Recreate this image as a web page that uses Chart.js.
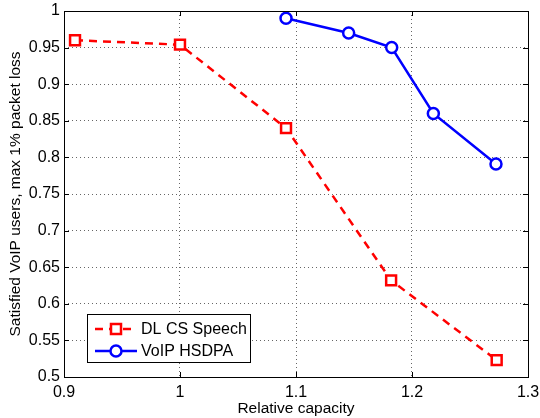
<!DOCTYPE html>
<html>
<head>
<meta charset="utf-8">
<script src="https://cdn.jsdelivr.net/npm/chart.js@4/dist/chart.umd.min.js"></script>
<style>
  html, body { margin: 0; padding: 0; background: #fff; }
  #wrap { width: 540px; height: 418px; }
</style>
</head>
<body>
<div id="wrap"><canvas id="voipChart" width="540" height="418"></canvas></div>
<script>
// values
const csX = [0.9095, 1.0, 1.0914, 1.182, 1.273];
const csY = [0.960, 0.954, 0.840, 0.632, 0.523];
const hsX = [1.0914, 1.1454, 1.1825, 1.2184, 1.2724];
const hsY = [0.990, 0.970, 0.950, 0.860, 0.791];
const seriesNames = ['DL CS Speech', 'VoIP HSDPA'];
const xTicks = [0.9, 1, 1.1, 1.2, 1.3];
const yTicks = [0.5, 0.55, 0.6, 0.65, 0.7, 0.75, 0.8, 0.85, 0.9, 0.95, 1];

const FONT = 'Liberation Sans, Arial, Helvetica, sans-serif';

function toPoints(xs, ys) {
  return xs.map((x, i) => ({ x: x, y: ys[i] }));
}

// box round the plot, like matlab
const boxPlugin = {
  id: 'box',
  afterDatasetsDraw(chart) {
    const a = chart.chartArea;
    const ctx = chart.ctx;
    ctx.save();
    ctx.strokeStyle = '#000';
    ctx.lineWidth = 1;
    ctx.strokeRect(Math.round(a.left) + 0.5, Math.round(a.top) + 0.5,
      Math.round(a.right - a.left), Math.round(a.bottom - a.top));
    // small inward ticks
    const xs = chart.scales.x, ys = chart.scales.y;
    ctx.beginPath();
    xTicks.forEach(t => {
      const px = Math.round(xs.getPixelForValue(t)) + 0.5;
      ctx.moveTo(px, a.bottom); ctx.lineTo(px, a.bottom - 5);
      ctx.moveTo(px, a.top); ctx.lineTo(px, a.top + 5);
    });
    yTicks.forEach(t => {
      const py = Math.round(ys.getPixelForValue(t)) + 0.5;
      ctx.moveTo(a.left, py); ctx.lineTo(a.left + 5, py);
      ctx.moveTo(a.right, py); ctx.lineTo(a.right - 5, py);
    });
    ctx.stroke();
    ctx.restore();
  }
};

// boxed legend in the lower left
const legendPlugin = {
  id: 'boxLegend',
  afterDraw(chart) {
    const ctx = chart.ctx;
    const bx = 87, by = 314, bw = 163, bh = 48;
    ctx.save();
    ctx.fillStyle = '#fff';
    ctx.fillRect(bx, by, bw, bh);
    ctx.strokeStyle = '#000';
    ctx.lineWidth = 1;
    ctx.strokeRect(bx + 0.5, by + 0.5, bw, bh);
    const rows = [329, 351];
    chart.data.datasets.forEach((ds, i) => {
      const y = rows[i];
      ctx.strokeStyle = ds.borderColor;
      ctx.lineWidth = ds.borderWidth;
      ctx.setLineDash(ds.borderDash || []);
      ctx.beginPath();
      ctx.moveTo(95, y); ctx.lineTo(137, y);
      ctx.stroke();
      ctx.setLineDash([]);
      ctx.fillStyle = '#fff';
      ctx.lineWidth = ds.pointBorderWidth;
      if (ds.pointStyle === 'rect') {
        ctx.fillRect(111, y - 5, 10, 10);
        ctx.strokeRect(111, y - 5, 10, 10);
      } else {
        ctx.beginPath();
        ctx.arc(116, y, 5.5, 0, Math.PI * 2);
        ctx.fill();
        ctx.stroke();
      }
      ctx.fillStyle = '#000';
      ctx.font = '16px ' + FONT;
      ctx.textBaseline = 'middle';
      ctx.fillText(ds.label, 141, y + 1);
    });
    ctx.restore();
  }
};

new Chart(document.getElementById('voipChart'), {
  type: 'line',
  data: {
    datasets: [{
      label: seriesNames[0],
      data: toPoints(csX, csY),
      borderColor: '#ff0000',
      borderWidth: 2.5,
      borderDash: [8, 6],
      pointStyle: 'rect',
      pointRadius: 7,
      pointBorderWidth: 2.5,
      pointBackgroundColor: '#fff',
      pointBorderColor: '#ff0000',
      tension: 0,
      fill: false
    }, {
      label: seriesNames[1],
      data: toPoints(hsX, hsY),
      borderColor: '#0000ff',
      borderWidth: 2.5,
      pointStyle: 'circle',
      pointRadius: 5.5,
      pointBorderWidth: 2.5,
      pointBackgroundColor: '#fff',
      pointBorderColor: '#0000ff',
      tension: 0,
      fill: false
    }]
  },
  options: {
    responsive: false,
    animation: false,
    layout: { padding: { top: 11, right: 12, left: 0, bottom: 0 } },
    plugins: { legend: { display: false }, tooltip: { enabled: false } },
    scales: {
      x: {
        type: 'linear',
        min: 0.9, max: 1.3,
        afterBuildTicks(s) { s.ticks = xTicks.map(v => ({ value: v })); },
        afterFit(s) { s.height = 41; s.paddingLeft = 0; s.paddingRight = 0; },
        grid: { color: '#666', lineWidth: 1, drawTicks: false },
        border: { display: false, dash: [1, 3] },
        ticks: { color: '#000', font: { family: FONT, size: 16 }, padding: 6,
          maxRotation: 0, callback: v => String(Math.round(v * 10) / 10) },
        title: { display: true, text: 'Relative capacity', color: '#000',
          font: { family: FONT, size: 15.5 }, padding: { top: 0, bottom: 0 } }
      },
      y: {
        min: 0.5, max: 1,
        afterBuildTicks(s) { s.ticks = yTicks.map(v => ({ value: v })); },
        afterFit(s) { s.width = 64; s.paddingTop = 0; s.paddingBottom = 0; },
        grid: { color: '#666', lineWidth: 1, drawTicks: false },
        border: { display: false, dash: [1, 3] },
        ticks: { color: '#000', font: { family: FONT, size: 16 }, padding: 4,
          callback: v => String(Math.round(v * 100) / 100) },
        title: { display: true, text: 'Satisfied VoIP users, max 1% packet loss', color: '#000',
          font: { family: FONT, size: 15.5 }, padding: { top: 6, bottom: 0 } }
      }
    }
  },
  plugins: [boxPlugin, legendPlugin]
});
</script>
</body>
</html>
